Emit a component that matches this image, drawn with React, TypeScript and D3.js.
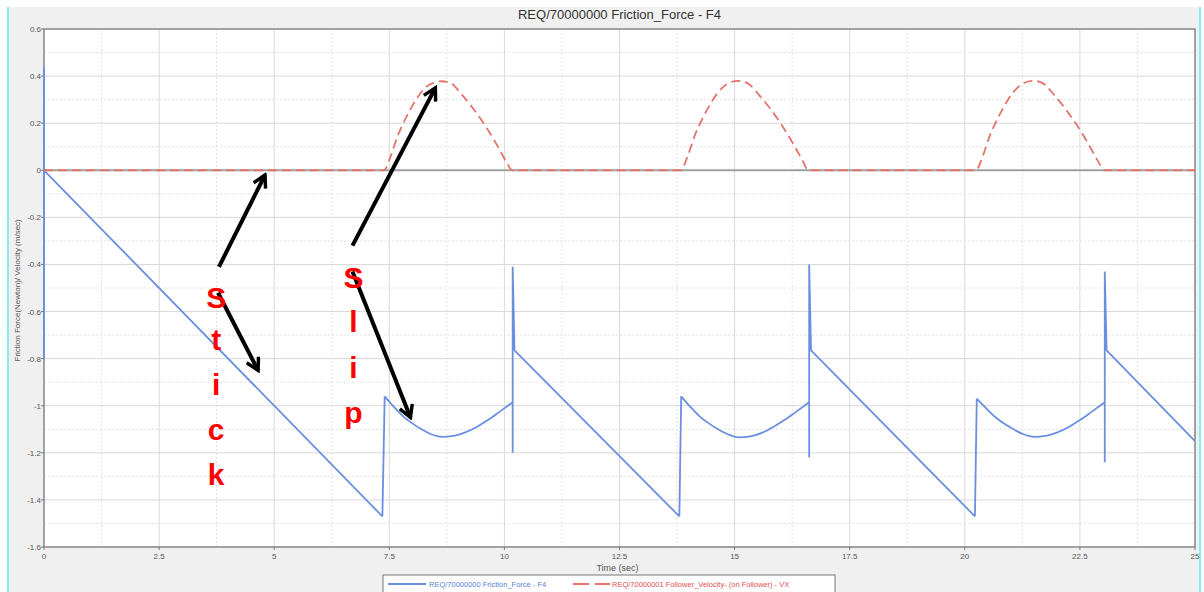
import React, { useRef, useEffect } from 'react';
import * as d3 from 'd3';

// friction force (blue, solid)
const frictionTime = [
  0, 0, 0, 7.35, 7.4, 7.6, 7.8, 8.0, 8.2, 8.4, 8.65, 8.9, 9.15, 9.4, 9.65, 9.9, 10.18,
  10.18, 10.18, 10.22, 13.8, 13.84, 14.04, 14.24, 14.44, 14.64, 14.84, 15.09, 15.34, 15.59, 15.84, 16.09, 16.34, 16.62,
  16.62, 16.62, 16.66, 20.22, 20.26, 20.46, 20.66, 20.86, 21.06, 21.26, 21.51, 21.76, 22.01, 22.26, 22.51, 22.76, 23.04,
  23.04, 23.04, 23.08, 25,
];
const frictionForce = [
  0.44, -0.8, 0, -1.47, -0.96, -1.005, -1.045, -1.075, -1.1, -1.12, -1.132, -1.128, -1.113, -1.09, -1.06, -1.025, -0.985,
  -1.2, -0.41, -0.765, -1.47, -0.96, -1.005, -1.045, -1.075, -1.1, -1.12, -1.134, -1.13, -1.115, -1.09, -1.06, -1.025, -0.985,
  -1.22, -0.4, -0.765, -1.47, -0.97, -1.01, -1.048, -1.077, -1.1, -1.12, -1.132, -1.128, -1.113, -1.09, -1.06, -1.025, -0.985,
  -1.24, -0.43, -0.765, -1.15,
];

// follower velocity (red, dashed)
const velocityTime = [
  0, 7.38, 7.53, 7.68, 7.88, 8.08, 8.28, 8.48, 8.63, 8.83, 9.08, 9.33, 9.58, 9.83, 10.03, 10.17,
  13.83, 13.98, 14.13, 14.33, 14.53, 14.73, 14.93, 15.08, 15.28, 15.53, 15.78, 16.03, 16.28, 16.48, 16.6,
  20.24, 20.39, 20.54, 20.74, 20.94, 21.14, 21.34, 21.49, 21.69, 21.94, 22.19, 22.44, 22.69, 22.89, 23.03,
  25,
];
const velocityValue = [
  0, 0, 0.06, 0.145, 0.23, 0.3, 0.35, 0.373, 0.378, 0.37, 0.32, 0.26, 0.19, 0.11, 0.04, 0,
  0, 0.06, 0.145, 0.23, 0.3, 0.35, 0.375, 0.38, 0.37, 0.32, 0.26, 0.19, 0.11, 0.04, 0,
  0, 0.06, 0.145, 0.23, 0.3, 0.35, 0.375, 0.38, 0.37, 0.32, 0.26, 0.19, 0.11, 0.04, 0,
  0,
];

const xTicks = [0, 2.5, 5, 7.5, 10, 12.5, 15, 17.5, 20, 22.5, 25];
const yTicks = [0.6, 0.4, 0.2, 0, -0.2, -0.4, -0.6, -0.8, -1, -1.2, -1.4, -1.6];

// hand-drawn annotations, in data units
const arrows = [
  { from: [3.8, -0.41], to: [4.8, -0.02] },
  { from: [3.78, -0.52], to: [4.65, -0.85] },
  { from: [6.7, -0.32], to: [8.5, 0.35] },
  { from: [6.7, -0.43], to: [7.96, -1.05] },
];
const stickLetters = ['S', 't', 'i', 'c', 'k'];
const stickY = [-0.54, -0.72, -0.91, -1.1, -1.29];
const slipLetters = ['S', 'l', 'i', 'p'];
const slipY = [-0.455, -0.643, -0.838, -1.03];

const W = 1204;
const H = 592;

// splits a series into runs: steep jumps stay straight, the rest is smoothed
const smoothPath = (ts: number[], vs: number[], x: any, y: any) => {
  const pts: [number, number][] = ts.map((t, i) => [t, vs[i]]);
  const lin = d3.line<[number, number]>().x(d => x(d[0])).y(d => y(d[1]));
  const smooth = d3.line<[number, number]>().x(d => x(d[0])).y(d => y(d[1])).curve(d3.curveMonotoneX);
  let out = '';
  let run: [number, number][] = [pts[0]];
  for (let i = 1; i < pts.length; i++) {
    const dt = pts[i][0] - pts[i - 1][0];
    const steep = dt <= 0 || Math.abs((pts[i][1] - pts[i - 1][1]) / dt) > 5;
    if (steep) {
      if (run.length > 1) out += smooth(run);
      out += lin([pts[i - 1], pts[i]]);
      run = [pts[i]];
    } else {
      run.push(pts[i]);
    }
  }
  if (run.length > 1) out += smooth(run);
  return out;
};

const App = () => {
  const ref = useRef<SVGSVGElement>(null);

  useEffect(() => {
    const svg = d3.select(ref.current);
    svg.selectAll('*').remove();

    const left = 44, right = 1195, top = 29, bottom = 547;
    const x = d3.scaleLinear().domain([0, 25]).range([left, right]);
    const y = d3.scaleLinear().domain([-1.6, 0.6]).range([bottom, top]);
    const font = 'Liberation Sans, Arial, sans-serif';

    // frame
    svg.append('rect').attr('width', W).attr('height', H).attr('fill', '#ffffff');
    svg.append('rect').attr('x', 8).attr('y', 7).attr('width', 1192).attr('height', H - 7).attr('fill', '#f0f0f0');
    svg.append('line').attr('x1', 8).attr('x2', 8).attr('y1', 7).attr('y2', H).attr('stroke', '#86eeee').attr('stroke-width', 2);
    svg.append('line').attr('x1', 1200).attr('x2', 1200).attr('y1', 7).attr('y2', H).attr('stroke', '#86eeee').attr('stroke-width', 2);

    svg.append('text')
      .attr('x', (left + right) / 2).attr('y', 19)
      .attr('text-anchor', 'middle')
      .style('font-family', font).style('font-size', '13px').style('fill', '#333')
      .text('REQ/70000000 Friction_Force - F4');

    svg.append('rect').attr('x', left).attr('y', top).attr('width', right - left).attr('height', bottom - top).attr('fill', '#ffffff');

    // grid
    const minorX = d3.range(1.25, 25, 2.5);
    const minorY = d3.range(-1.5, 0.6, 0.2);
    const g = svg.append('g');
    g.selectAll('.mx').data(minorX).join('line')
      .attr('x1', d => x(d)).attr('x2', d => x(d)).attr('y1', top).attr('y2', bottom)
      .attr('stroke', '#e2e2e2').attr('stroke-dasharray', '2,2');
    g.selectAll('.my').data(minorY).join('line')
      .attr('x1', left).attr('x2', right).attr('y1', d => y(d)).attr('y2', d => y(d))
      .attr('stroke', '#e2e2e2').attr('stroke-dasharray', '2,2');
    g.selectAll('.gx').data(xTicks).join('line')
      .attr('x1', d => x(d)).attr('x2', d => x(d)).attr('y1', top).attr('y2', bottom)
      .attr('stroke', '#d9d9d9');
    g.selectAll('.gy').data(yTicks).join('line')
      .attr('x1', left).attr('x2', right).attr('y1', d => y(d)).attr('y2', d => y(d))
      .attr('stroke', '#d9d9d9');
    svg.append('line').attr('x1', left).attr('x2', right).attr('y1', y(0)).attr('y2', y(0))
      .attr('stroke', '#a0a0a0').attr('stroke-width', 2);

    svg.append('rect').attr('x', left).attr('y', top).attr('width', right - left).attr('height', bottom - top)
      .attr('fill', 'none').attr('stroke', '#8a8a8a').attr('stroke-width', 1.5);

    // ticks
    svg.selectAll('.tx').data(xTicks).join('text')
      .attr('x', d => x(d)).attr('y', bottom + 12)
      .attr('text-anchor', 'middle')
      .style('font-family', font).style('font-size', '8px').style('fill', '#555')
      .text(d => String(d));
    svg.selectAll('.ty').data(yTicks).join('text')
      .attr('x', left - 3).attr('y', d => y(d) + 3)
      .attr('text-anchor', 'end')
      .style('font-family', font).style('font-size', '8px').style('fill', '#555')
      .text(d => String(d));
    svg.selectAll('.tkx').data(xTicks).join('line')
      .attr('x1', d => x(d)).attr('x2', d => x(d)).attr('y1', bottom).attr('y2', bottom + 3).attr('stroke', '#777');
    svg.selectAll('.tky').data(yTicks).join('line')
      .attr('x1', left - 3).attr('x2', left).attr('y1', d => y(d)).attr('y2', d => y(d)).attr('stroke', '#777');

    svg.append('text')
      .attr('x', (left + right) / 2 - 2).attr('y', bottom + 24)
      .attr('text-anchor', 'middle')
      .style('font-family', font).style('font-size', '9px').style('fill', '#555')
      .text('Time (sec)');
    svg.append('text')
      .attr('transform', `translate(20, ${y(-0.51)}) rotate(-90)`)
      .attr('text-anchor', 'middle')
      .style('font-family', font).style('font-size', '8px').style('fill', '#555')
      .text('Friction Force(Newton)/ Velocity (m/sec)');

    // series
    svg.append('path')
      .attr('d', smoothPath(frictionTime, frictionForce, x, y))
      .attr('fill', 'none').attr('stroke', '#6b8fe0').attr('stroke-width', 1.8).attr('stroke-linejoin', 'round');
    svg.append('path')
      .attr('d', d3.line<number>().x(i => x(velocityTime[i])).y(i => y(velocityValue[i])).curve(d3.curveMonotoneX)(d3.range(velocityTime.length)))
      .attr('fill', 'none').attr('stroke', '#e2746c').attr('stroke-width', 1.8).attr('stroke-dasharray', '9,5');

    // annotations
    const defs = svg.append('defs');
    defs.append('marker')
      .attr('id', 'head').attr('viewBox', '0 0 12 12')
      .attr('refX', 10).attr('refY', 6)
      .attr('markerWidth', 16).attr('markerHeight', 16)
      .attr('markerUnits', 'userSpaceOnUse')
      .attr('orient', 'auto')
      .append('path').attr('d', 'M1,1 L10,6 L1,11')
      .attr('fill', 'none').attr('stroke', '#000').attr('stroke-width', 2.6);
    svg.selectAll('.arrow').data(arrows).join('line')
      .attr('x1', d => x(d.from[0])).attr('y1', d => y(d.from[1]))
      .attr('x2', d => x(d.to[0])).attr('y2', d => y(d.to[1]))
      .attr('stroke', '#000').attr('stroke-width', 4)
      .attr('marker-end', 'url(#head)');

    svg.selectAll('.stick').data(stickLetters).join('text')
      .attr('x', x(3.74)).attr('y', (d, i) => y(stickY[i]))
      .attr('text-anchor', 'middle').attr('dominant-baseline', 'central')
      .style('font-family', font).style('font-size', '30px').style('font-weight', 'bold').style('fill', '#ff0000')
      .text(d => d);
    svg.selectAll('.slip').data(slipLetters).join('text')
      .attr('x', x(6.72)).attr('y', (d, i) => y(slipY[i]))
      .attr('text-anchor', 'middle').attr('dominant-baseline', 'central')
      .style('font-family', font).style('font-size', '30px').style('font-weight', 'bold').style('fill', '#ff0000')
      .text(d => d);

    // legend
    const lg = svg.append('g');
    lg.append('rect').attr('x', 383).attr('y', 575).attr('width', 452).attr('height', 20)
      .attr('fill', '#fff').attr('stroke', '#777').attr('stroke-width', 1);
    lg.append('line').attr('x1', 388).attr('x2', 426).attr('y1', 584).attr('y2', 584)
      .attr('stroke', '#6b8fe0').attr('stroke-width', 2);
    lg.append('text').attr('x', 429).attr('y', 587)
      .style('font-family', font).style('font-size', '7.5px').style('fill', '#5b7fe0')
      .text('REQ/70000000 Friction_Force - F4');
    lg.append('line').attr('x1', 573).attr('x2', 610).attr('y1', 584).attr('y2', 584)
      .attr('stroke', '#e2746c').attr('stroke-width', 2).attr('stroke-dasharray', '16,6');
    lg.append('text').attr('x', 612).attr('y', 587)
      .style('font-family', font).style('font-size', '7.5px').style('fill', '#e05050')
      .text('REQ/70000001 Follower_Velocity- (on Follower) - VX');
  }, []);

  return (
    <svg ref={ref} width={W} height={H} style={{ position: 'absolute', left: 0, top: 0 }} />
  );
};

export default App;
